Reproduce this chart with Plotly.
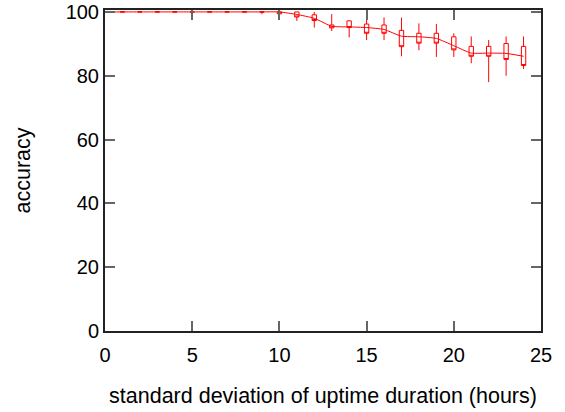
import plotly.graph_objects as go

# x positions (std dev of uptime, hours)
x_vals = list(range(0, 25))
# box bottom (q1) / box top (q3) / whisker low / whisker high
box_low = [100, 100, 100, 100, 100, 100, 100, 100, 100, 100, 99.4, 98.4, 97.3, 95.0,
           95.1, 93.3, 93.3, 89.1, 90.2, 90.2, 88.1, 86.1, 86.1, 85.1, 83.2]
box_high = [100, 100, 100, 100, 100, 100, 100, 100, 100, 100, 100, 100, 99.1, 95.9,
            97.2, 96.2, 95.9, 94.2, 93.3, 93.3, 92.2, 89.2, 89.2, 90.1, 89.2]
whisk_low = [100, 100, 100, 100, 100, 100, 100, 100, 100, 99.3, 98.8, 97.2, 95.1, 94.0,
             92.0, 91.2, 91.2, 86.1, 88.0, 85.9, 85.9, 83.9, 78.0, 80.0, 82.1]
whisk_high = [100, 100, 100, 100, 100, 100, 100, 100, 100, 100, 100, 100, 100, 99.3,
              97.2, 97.5, 98.3, 98.2, 96.4, 96.2, 93.3, 92.3, 91.2, 92.3, 92.3]
# smoothed trend line
line_vals = [100, 100, 100, 100, 100, 100, 100, 100, 100, 100, 100, 99.2, 98.0, 95.5,
             95.3, 95.1, 94.5, 92.4, 92.2, 91.7, 89.4, 87.1, 87.1, 87.0, 86.1]

x_ticks = [0, 5, 10, 15, 20, 25]
y_ticks = [0, 20, 40, 60, 80, 100]

RED = "#ff0000"
FONT = "Liberation Sans, Arial, sans-serif"

fig = go.Figure()

fig.add_trace(go.Scatter(
    x=x_vals, y=line_vals, mode="lines",
    line=dict(color=RED, width=1, shape="spline", smoothing=0.5),
    hoverinfo="skip", showlegend=False,
))

fig.add_trace(go.Box(
    x=x_vals, q1=box_low, median=box_low, q3=box_high,
    lowerfence=whisk_low, upperfence=whisk_high,
    width=0.25, whiskerwidth=0, boxpoints=False,
    line=dict(color=RED, width=1), fillcolor="rgba(0,0,0,0)",
    hoverinfo="skip", showlegend=False,
))

axis_common = dict(
    showline=True, linecolor="#222", linewidth=2, mirror="allticks",
    ticks="inside", ticklen=10, tickwidth=1.5, tickcolor="#666",
    showgrid=False, zeroline=False, automargin=False,
    ticklabeloverflow="allow",
    tickfont=dict(family=FONT, size=20, color="#000"),
)

fig.update_layout(
    width=565, height=412,
    margin=dict(l=105, r=24, t=10, b=81, autoexpand=False),
    paper_bgcolor="white", plot_bgcolor="white",
    font=dict(family=FONT, size=20, color="#000"),
    xaxis=dict(range=[0, 25], tickvals=x_ticks, ticklabelstandoff=5,
               title=dict(text="standard deviation of uptime duration (hours)",
                          font=dict(family=FONT, size=21.5), standoff=23),
               **axis_common),
    yaxis=dict(range=[0, 100.6], tickvals=y_ticks,
               title=dict(text="accuracy", font=dict(family=FONT, size=21.5), standoff=29),
               **axis_common),
    showlegend=False,
)

fig.write_html("out.html", config={"displayModeBar": False},
               post_script="document.body.style.margin='0';")
